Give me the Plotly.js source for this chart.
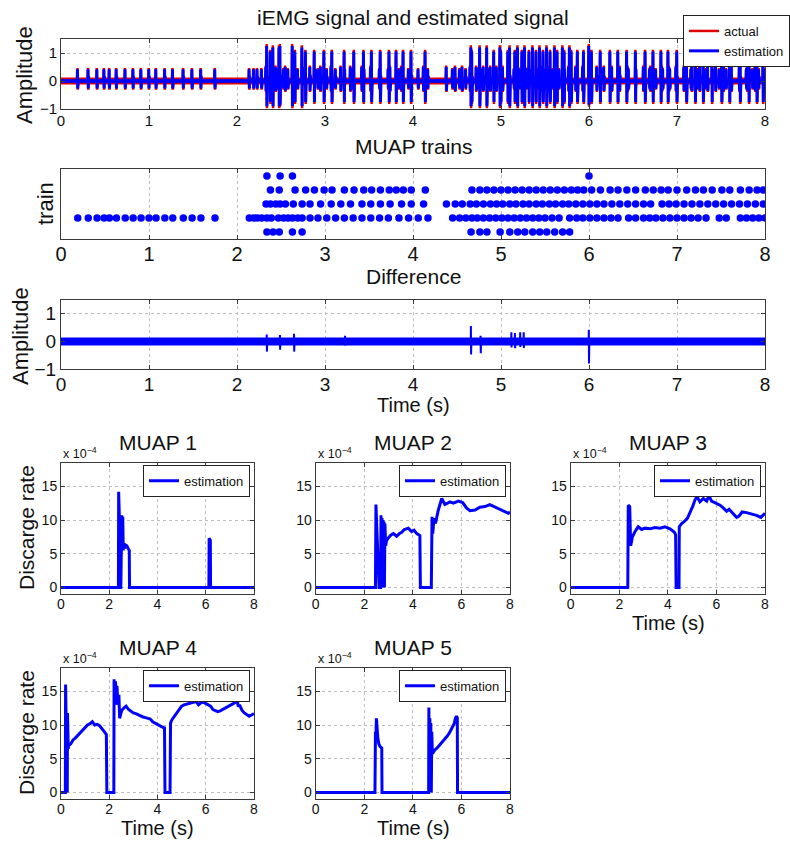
<!DOCTYPE html>
<html><head><meta charset="utf-8">
<script src="https://cdn.plot.ly/plotly-3.0.1.min.js"></script>
<style>html,body{margin:0;padding:0;background:#fff}#chart{width:790px;height:841px}</style>
</head><body><div id="chart"></div>
<script>
// ---------------- DATA ----------------
const timeSpan = [0, 8];
const muapNames = ['MUAP 1', 'MUAP 2', 'MUAP 3', 'MUAP 4', 'MUAP 5'];
const muapRow = [1, 2, 3, 4, 5];

// firing times (s) of each MUAP train
const mu1Fire = [2.34, 2.49, 2.63, 6.00];
const mu2Fire = [2.38, 2.48, 2.66, 2.78, 2.88, 2.99, 3.08, 3.22, 3.33, 3.44, 3.53, 3.63, 3.73, 3.81, 3.89, 3.98, 4.14,
  4.67, 4.76, 4.84, 4.92, 5.00, 5.08, 5.16, 5.24, 5.32, 5.40, 5.48, 5.56, 5.64, 5.72, 5.80, 5.87, 5.94, 6.03, 6.13,
  6.24, 6.33, 6.43, 6.53, 6.64, 6.73, 6.82, 6.90, 7.00, 7.11, 7.21, 7.30, 7.40, 7.51, 7.60, 7.72, 7.82, 7.91, 7.98];
const mu3Fire = [2.33, 2.38, 2.44, 2.49, 2.55, 2.64, 2.74, 2.83, 2.95, 3.07, 3.18, 3.29, 3.42, 3.52, 3.63, 3.74, 3.87,
  3.98, 4.12, 4.38, 4.48, 4.56, 4.65, 4.72, 4.80, 4.88, 4.95, 5.02, 5.10, 5.17, 5.25, 5.32, 5.40, 5.47, 5.55, 5.62,
  5.70, 5.77, 5.85, 5.93, 6.01, 6.09, 6.17, 6.26, 6.35, 6.44, 6.53, 6.62, 6.70, 6.83, 6.91, 6.99, 7.08, 7.17, 7.26,
  7.35, 7.44, 7.53, 7.62, 7.71, 7.80, 7.89, 7.98];
const mu4Fire = [0.19, 0.31, 0.41, 0.49, 0.55, 0.63, 0.73, 0.82, 0.91, 1.00, 1.08, 1.18, 1.27, 1.39, 1.49, 1.59, 1.75,
  2.14, 2.19, 2.23, 2.28, 2.34, 2.39, 2.47, 2.53, 2.58, 2.63, 2.69, 2.74, 2.83, 2.92, 3.02, 3.12, 3.22, 3.32, 3.42,
  3.52, 3.62, 3.72, 3.84, 3.95, 4.06, 4.17, 4.45, 4.53, 4.60, 4.67, 4.73, 4.80, 4.87, 4.94, 5.01, 5.08, 5.15, 5.22,
  5.29, 5.36, 5.43, 5.50, 5.58, 5.66, 5.78, 5.86, 5.93, 6.01, 6.09, 6.17, 6.25, 6.33, 6.45, 6.53, 6.62, 6.69, 6.76,
  6.84, 6.92, 7.00, 7.08, 7.16, 7.24, 7.33, 7.48, 7.56, 7.72, 7.79, 7.86, 7.93, 8.00];
const mu5Fire = [2.34, 2.41, 2.48, 2.63, 2.74, 4.66, 4.76, 4.84, 4.99, 5.10, 5.19, 5.27, 5.36, 5.44, 5.52, 5.61, 5.70, 5.78];

// spike peak / trough of each MUAP in the iEMG signal
const estHigh = [1.25, 1.05, 0.50, 0.42, 1.20];
const estLow = [-0.85, -0.75, -0.35, -0.27, -0.90];
const actHigh = [1.32, 1.12, 0.55, 0.46, 1.28];
const actLow = [-0.92, -0.82, -0.39, -0.31, -0.97];

// difference signal: residual spikes
const diffT = [2.34, 2.49, 2.65, 3.23, 4.66, 4.77, 5.12, 5.16, 5.22, 5.26, 6.00];
const diffHi = [0.25, 0.23, 0.28, 0.20, 0.56, 0.20, 0.33, 0.30, 0.33, 0.33, 0.42];
const diffLo = [-0.37, -0.30, -0.37, -0.15, -0.47, -0.43, -0.22, -0.25, -0.20, -0.24, -0.80];

// discharge rate estimates, [time (s), rate (x 10^-4)]
const mu1Rate = [[0,0],[2.38,0],[2.39,14.2],[2.43,9],[2.45,0],[2.48,0],[2.52,10.7],[2.53,6],[2.56,10.5],[2.58,5.5],
  [2.61,6.4],[2.64,5.8],[2.68,6.3],[2.73,6.2],[2.78,5.8],[2.83,5.5],[2.84,0],[6.13,0],[6.14,7.3],[6.19,7.0],[6.20,0],[8,0]];
const mu2Rate = [[0,0],[2.46,0],[2.48,12.3],[2.61,0],[2.67,0],[2.69,10.7],[2.71,0],[2.73,10.3],[2.75,0],[2.77,10],
  [2.79,0],[2.81,9.8],[2.83,0],[2.85,9.5],[2.88,6.2],[2.92,7.0],[3.0,7.4],[3.1,7.8],[3.2,8.0],[3.33,7.6],[3.45,8.0],
  [3.54,8.2],[3.65,8.6],[3.72,8.7],[3.81,8.8],[3.95,8.3],[4.05,8.5],[4.16,8.0],[4.29,7.7],[4.31,0],[4.76,0],[4.79,10.5],
  [4.82,8.0],[4.87,10.3],[4.93,9.5],[5.05,11.5],[5.12,12.5],[5.19,13.2],[5.32,12.3],[5.45,12.6],[5.53,12.7],[5.67,12.5],
  [5.87,12.8],[6.05,12.6],[6.21,11.8],[6.35,11.4],[6.56,11.5],[6.76,11.9],[6.97,12.0],[7.17,12.3],[7.34,12.0],
  [7.59,11.6],[7.79,11.2],[7.93,11.0],[8.0,11.2]];
const mu3Rate = [[0,0],[2.35,0],[2.37,12.2],[2.43,12.0],[2.47,6.2],[2.54,7.5],[2.65,8.3],[2.78,9.0],[2.92,8.6],[3.06,8.8],
  [3.26,8.7],[3.47,8.9],[3.68,8.8],[3.88,9.0],[4.09,8.7],[4.27,8.2],[4.32,7.8],[4.34,0],[4.46,0],[4.47,9.0],[4.57,9.5],
  [4.68,9.8],[4.81,10.3],[4.91,11.0],[5.02,12.0],[5.12,13.0],[5.20,13.5],[5.32,12.7],[5.46,13.2],[5.60,12.8],[5.69,13.6],
  [5.80,12.8],[5.97,12.5],[6.15,12.2],[6.28,11.8],[6.42,11.3],[6.52,11.6],[6.69,11.0],[6.83,10.4],[6.93,10.6],
  [7.06,11.2],[7.24,11.1],[7.45,10.9],[7.65,10.7],[7.83,10.4],[7.93,10.8],[8.0,11.0]];
const mu4Rate = [[0,0],[0.18,0],[0.19,16],[0.22,6],[0.24,0],[0.26,0],[0.27,11.8],[0.30,6.5],[0.32,7.0],[0.40,7.2],
  [0.5,7.8],[0.6,8.1],[0.7,8.5],[0.8,8.8],[0.9,9.2],[1.0,9.6],[1.1,10.0],[1.2,10.2],[1.3,10.5],[1.4,10.0],[1.5,10.1],
  [1.6,9.9],[1.7,9.5],[1.8,9.0],[1.88,8.6],[1.90,0],[2.19,0],[2.20,16.8],[2.23,13],[2.26,16.5],[2.29,13.5],[2.32,15.8],
  [2.36,13],[2.40,14.5],[2.43,11],[2.46,11.5],[2.52,12.2],[2.60,12.5],[2.70,12.8],[2.80,12.3],[2.9,12.0],[3.0,11.8],
  [3.1,11.7],[3.2,11.5],[3.3,11.3],[3.4,11.2],[3.5,11.1],[3.6,11.0],[3.7,10.9],[3.8,10.5],[3.9,10.3],[4.0,10.0],
  [4.1,9.8],[4.2,9.7],[4.29,9.6],[4.31,0],[4.52,0],[4.54,10.3],[4.6,10.8],[4.7,11.3],[4.8,11.8],[4.9,12.2],[5.0,12.8],
  [5.1,13.0],[5.2,13.1],[5.3,13.2],[5.4,13.3],[5.5,13.3],[5.6,13.5],[5.7,13.0],[5.8,13.3],[5.9,13.4],[6.0,13.2],
  [6.1,13.0],[6.2,12.8],[6.3,12.3],[6.4,12.1],[6.5,12.0],[6.6,12.1],[6.7,12.3],[6.8,12.5],[6.9,12.8],[7.0,13.0],
  [7.1,13.1],[7.2,13.3],[7.3,13.8],[7.35,12.7],[7.4,13.0],[7.5,12.2],[7.6,11.8],[7.7,11.5],[7.8,11.3],[7.9,11.5],[8.0,11.7]];
const mu5Rate = [[0,0],[2.44,0],[2.46,9],[2.48,8.5],[2.50,11],[2.53,9],[2.56,8],[2.60,7.2],[2.65,6.8],[2.72,6.6],
  [2.73,0],[4.65,0],[4.66,12.6],[4.68,0],[4.70,11],[4.72,0],[4.74,10.3],[4.76,0],[4.78,9],[4.80,6.2],[4.85,6.0],
  [4.9,6.3],[5.0,6.6],[5.1,7.0],[5.2,7.4],[5.3,7.9],[5.4,8.3],[5.5,8.8],[5.6,9.5],[5.7,10.2],[5.75,11.0],[5.8,11.3],
  [5.83,11.1],[5.84,0],[8,0]];

const xTicksTop = [0, 1, 2, 3, 4, 5, 6, 7, 8];
const xTicksMuap = [0, 2, 4, 6, 8];
const yTicksAmp = [-1, 0, 1];
const yTicksRate = [0, 5, 10, 15];

// ---------------- BUILD ----------------
const W = 790, H = 841;
const BLUE = '#0000ff', RED = '#e00000';
const FONT = 'Liberation Sans, Arial, Helvetica, sans-serif';
const fires = [mu1Fire, mu2Fire, mu3Fire, mu4Fire, mu5Fire];
const rates = [mu1Rate, mu2Rate, mu3Rate, mu4Rate, mu5Rate];

function spikePath(list, w) {
  list = list.slice().sort((a, b) => a.t - b.t);
  const xs = [timeSpan[0]], ys = [0];
  for (const s of list) {
    xs.push(s.t - w, s.t - w / 2, s.t, s.t + w / 2, s.t + w);
    ys.push(0, s.hi, s.lo, s.hi * 0.4, 0);
  }
  xs.push(timeSpan[1]); ys.push(0);
  return {x: xs, y: ys};
}
function spikesFrom(hiArr, loArr) {
  const out = [];
  fires.forEach((f, i) => f.forEach(t => out.push({t, hi: hiArr[i], lo: loArr[i]})));
  return out;
}
const est = spikePath(spikesFrom(estHigh, estLow), 0.006);
const act = spikePath(spikesFrom(actHigh, actLow), 0.006);
const dif = spikePath(diffT.map((t, i) => ({t, hi: diffHi[i], lo: diffLo[i]})), 0.004);

const traces = [];
traces.push({x: timeSpan, y: [0, 0], mode: 'lines', line: {color: RED, width: 7}, showlegend: false, xaxis: 'x', yaxis: 'y', hoverinfo: 'skip'});
traces.push({x: act.x, y: act.y, mode: 'lines', name: 'actual', line: {color: RED, width: 2.5}, xaxis: 'x', yaxis: 'y', legend: 'legend'});
traces.push({x: timeSpan, y: [0, 0], mode: 'lines', line: {color: BLUE, width: 3.5}, showlegend: false, xaxis: 'x', yaxis: 'y', hoverinfo: 'skip'});
traces.push({x: est.x, y: est.y, mode: 'lines', name: 'estimation', line: {color: BLUE, width: 3}, xaxis: 'x', yaxis: 'y', legend: 'legend'});

fires.forEach((f, i) => traces.push({x: f, y: f.map(() => muapRow[i]), mode: 'markers', marker: {color: BLUE, size: 7.5},
  showlegend: false, xaxis: 'x2', yaxis: 'y2', name: muapNames[i]}));

traces.push({x: timeSpan, y: [0, 0], mode: 'lines', line: {color: BLUE, width: 8}, showlegend: false, xaxis: 'x3', yaxis: 'y3'});
traces.push({x: dif.x, y: dif.y, mode: 'lines', line: {color: BLUE, width: 2}, showlegend: false, xaxis: 'x3', yaxis: 'y3'});

rates.forEach((r, i) => traces.push({x: r.map(p => p[0]), y: r.map(p => p[1]), mode: 'lines', name: 'estimation',
  line: {color: BLUE, width: 3}, xaxis: 'x' + (i + 4), yaxis: 'y' + (i + 4), legend: 'legend' + (i + 2), showlegend: true}));

function dx(a, b) { return [a / W, b / W]; }
function dy(top, bottom) { return [1 - bottom / H, 1 - top / H]; }
function ax(extra) {
  return Object.assign({showline: true, mirror: 'ticks', linecolor: '#3a3a3a', linewidth: 1, ticks: 'inside', ticklen: 4,
    tickcolor: '#3a3a3a', showgrid: true, gridcolor: '#bdbdbd', griddash: 'dot', gridwidth: 1, zeroline: false,
    tickfont: {family: FONT, size: 15, color: '#111'}, fixedrange: true}, extra);
}
const layout = {
  width: W, height: H, margin: {l: 0, r: 0, t: 0, b: 0, autoexpand: false},
  paper_bgcolor: '#fff', plot_bgcolor: '#fff', font: {family: FONT, color: '#111'},
  xaxis: ax({domain: dx(61, 765), range: [0, 8], tickvals: xTicksTop, anchor: 'y', ticklabelstandoff: -2}),
  yaxis: ax({domain: dy(39, 109), range: [-1, 1.5], tickvals: yTicksAmp, anchor: 'x'}),
  xaxis2: ax({domain: dx(61, 765), range: [0, 8], tickvals: xTicksTop, anchor: 'y2', tickfont: {family: FONT, size: 20, color: '#111'}, ticklabelstandoff: -3}),
  yaxis2: ax({domain: dy(169, 239), range: [5.5, 0.5], showticklabels: false, ticks: '', showgrid: false, anchor: 'x2'}),
  xaxis3: ax({domain: dx(61, 765), range: [0, 8], tickvals: xTicksTop, anchor: 'y3', tickfont: {family: FONT, size: 19, color: '#111'}, ticklabelstandoff: -2}),
  yaxis3: ax({domain: dy(300, 369), range: [-1, 1.5], tickvals: yTicksAmp, anchor: 'x3', tickfont: {family: FONT, size: 19, color: '#111'}}),
  legend: {x: 683 / W, xanchor: 'left', y: 1 - 15 / H, yanchor: 'top', bgcolor: '#fff', bordercolor: '#222', borderwidth: 1,
    font: {family: FONT, size: 13, color: '#111'}, itemwidth: 30, tracegroupgap: 0},
  showlegend: true,
  annotations: [],
};
const muapBoxes = [[61, 254, 462.7, 594.3], [315.7, 510, 462.7, 594.3], [570.7, 765, 462.7, 594.3],
  [61, 254, 667.7, 799.3], [315.7, 510, 667.7, 799.3]];
muapBoxes.forEach((b, i) => {
  const n = i + 4;
  layout['xaxis' + n] = ax({domain: dx(b[0], b[1]), range: [0, 8], tickvals: xTicksMuap, anchor: 'y' + n, ticklabelstandoff: -3, tickfont: {family: FONT, size: 14, color: '#111'}});
  layout['yaxis' + n] = ax({domain: dy(b[2], b[3]), range: [-1, 18.5], tickvals: yTicksRate, anchor: 'x' + n, tickfont: {family: FONT, size: 14, color: '#111'}});
  layout['legend' + (i + 2)] = {x: (b[1] - 4) / W, xanchor: 'right', y: 1 - (b[2] + 2) / H, yanchor: 'top', bgcolor: '#fff',
    bordercolor: '#222', borderwidth: 1, font: {family: FONT, size: 13, color: '#111'}, itemwidth: 30, tracegroupgap: 0};
});

function txt(text, x, y, size, angle, xa) {
  return {text, x: x / W, y: 1 - y / H, xref: 'paper', yref: 'paper', showarrow: false, xanchor: xa || 'center',
    yanchor: 'middle', textangle: angle || 0, font: {family: FONT, size, color: '#111'}};
}
const A = layout.annotations;
A.push(txt('iEMG signal and estimated signal', 413, 18, 21));
A.push(txt('Amplitude', 25, 75, 22, -90));
A.push(txt('MUAP trains', 413, 147, 21));
A.push(txt('train', 46, 204, 22, -90));
A.push(txt('Difference', 413, 276, 21));
A.push(txt('Amplitude', 20, 336, 22, -90));
A.push(txt('Time (s)', 413, 405, 20));
muapBoxes.forEach((b, i) => {
  const cx = (b[0] + b[1]) / 2;
  A.push(txt(muapNames[i], cx, b[2] - 20, 21));
  A.push(txt('x 10<sup>\u22124</sup>', b[0], b[2] - 10, 12.5, 0, 'left'));
});
A.push(txt('Discarge rate', 26, 528, 21, -90));
A.push(txt('Discarge rate', 26, 733, 21, -90));
A.push(txt('Time (s)', 668, 623, 20));
A.push(txt('Time (s)', 157, 828, 20));
A.push(txt('Time (s)', 413, 828, 20));

Plotly.newPlot('chart', traces, layout, {displayModeBar: false, staticPlot: true});
</script></body></html>
